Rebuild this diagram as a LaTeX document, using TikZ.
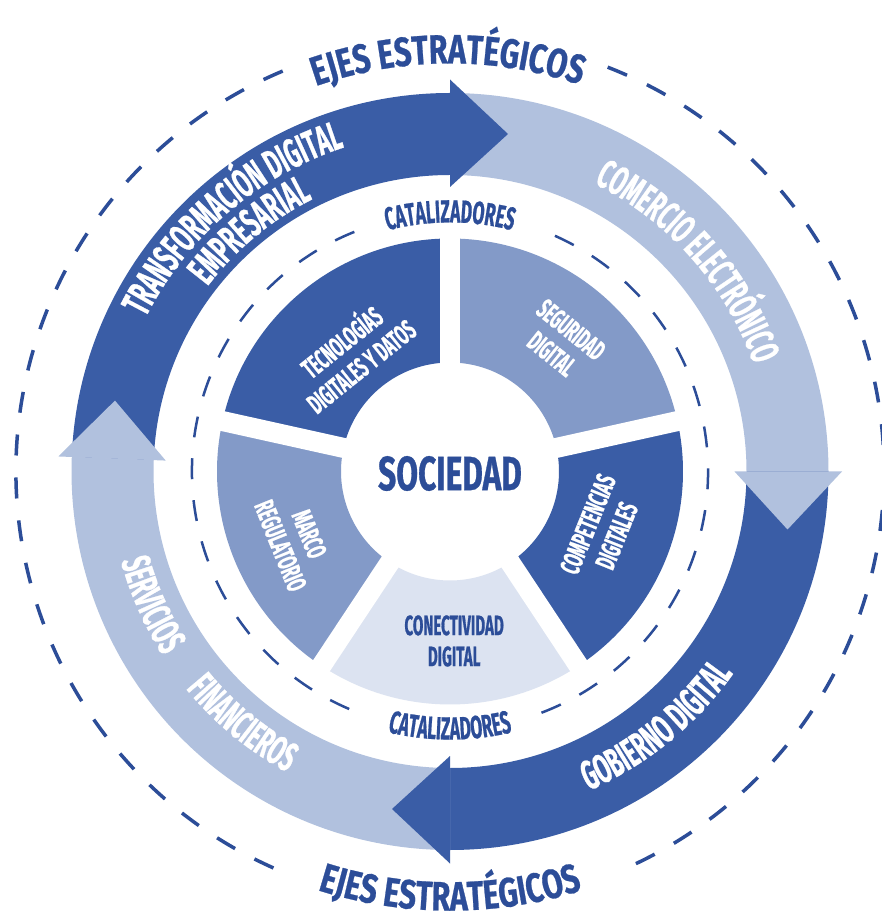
\documentclass[tikz,border=0pt]{standalone}
\usepackage{fontspec}
\usetikzlibrary{calc,decorations.text}
\newfontfamily\condsf[FakeStretch=0.54, BoldFeatures={FakeBold=0.6}]{Fira Sans}
\newfontfamily\midsf[FakeStretch=0.66, BoldFeatures={FakeBold=0.6}]{Fira Sans}
\newfontfamily\widesf[FakeStretch=0.74, BoldFeatures={FakeBold=0.6}]{Fira Sans}
\definecolor{bandDark}{HTML}{3A5DA6}
\definecolor{bandLight}{HTML}{B1C1DE}
\definecolor{segMid}{HTML}{839AC8}
\definecolor{segPale}{HTML}{DCE3F1}
\definecolor{inkBlue}{HTML}{2C4D98}

% text set on a clockwise / counter-clockwise arc, centred on an angle
\newcommand\cwtext[4]{\path[decorate,decoration={text along path,text align=center,text={|#3|#4}}]
  ({#2+70}:#1) arc[start angle={#2+70}, end angle={#2-70}, radius=#1];}
\newcommand\ccwtext[4]{\path[decorate,decoration={text along path,text align=center,text={|#3|#4}}]
  ({#2-70}:#1) arc[start angle={#2-70}, end angle={#2+70}, radius=#1];}

\newcommand\ringfmt{\condsf\bfseries\fontsize{41}{41}\selectfont\color{white}}
\newcommand\catfmt{\condsf\bfseries\fontsize{32}{32}\selectfont\color{inkBlue}}
\newcommand\ejesfmt{\widesf\bfseries\fontsize{41}{41}\selectfont\color{inkBlue}}

% ring band between two angles (clockwise from #1 to #2)
\newcommand\band[3]{\fill[#3] (#1:378.5) arc[start angle=#1, end angle=#2, radius=378.5]
  -- (#2:296.5) arc[start angle=#2, end angle=#1, radius=296.5] -- cycle;}
% arrow head whose base lies on the ray at angle #1, pointing clockwise
\newcommand\head[2]{\fill[#2] (#1:284.5) -- (#1:392) -- ($(#1:337.5)+({#1-90}:58)$) -- cycle;}
% sector of the inner wheel
\newcommand\sector[3]{\fill[#3] (#1:233) arc[start angle=#1, end angle=#2, radius=233]
  -- (#2:109) arc[start angle=#2, end angle=#1, radius=109] -- cycle;}

\tikzset{
  segtext/.style={font=\condsf\bfseries\fontsize{28}{31}\selectfont, text=white, align=center, inner sep=0pt},
  gapline/.style={white, line width=20pt},
  outerdash/.style={inkBlue, line width=3.5pt, dash pattern=on 21pt off 22pt},
  innerdash/.style={inkBlue, line width=2.5pt, dash pattern=on 21pt off 21pt},
}

\begin{document}
\begin{tikzpicture}[x=1pt,y=1pt]
\useasboundingbox (-450,-451.5) rectangle (432,471.5);
\fill[white] (-450,-451.5) rectangle (432,471.5);

% outer dashed circle, open where the titles sit
\draw[outerdash] (68.7:434) arc[start angle=68.7, end angle=-66, radius=434];
\draw[outerdash] (-114:434) arc[start angle=-114, end angle=-248.7, radius=434];

% strategic axes: four bands running clockwise
\band{177.8}{90}{bandDark}
\band{90}{0}{bandLight}
\band{0}{-90}{bandDark}
\band{-90}{-182.2}{bandLight}
\head{90}{bandDark}
\head{0}{bandLight}
\head{-90}{bandDark}
\head{177.8}{bandLight}

% inner dashed circle
\draw[innerdash] (66:258) arc[start angle=66, end angle=-69.4, radius=258];
\draw[innerdash] (-113:258) arc[start angle=-113, end angle=-251, radius=258];

% enablers wheel
\sector{167.5}{90}{bandDark}
\sector{90}{12.5}{segMid}
\sector{12.5}{-56.5}{bandDark}
\sector{-56.5}{-123.5}{segPale}
\sector{-123.5}{-192.5}{segMid}
\foreach \a in {90,12.5,-56.5,-123.5,167.5}
  \draw[gapline] (\a:100) -- (\a:245);

% labels on the bands
\cwtext{341}{130.6}{\ringfmt}{TRANSFORMACIÓN DIGITAL}
\cwtext{305}{129.7}{\ringfmt}{EMPRESARIAL}
\cwtext{322}{41.4}{\ringfmt}{COMERCIO ELECTRÓNICO}
\ccwtext{348}{-51}{\ringfmt}{GOBIERNO DIGITAL}
\ccwtext{341}{-156}{\ringfmt}{SERVICIOS}
\ccwtext{342}{-129.5}{\ringfmt}{FINANCIEROS}

\cwtext{249}{90}{\catfmt}{CATALIZADORES}
\ccwtext{268}{-90}{\catfmt}{CATALIZADORES}

\cwtext{408}{90.3}{\ejesfmt}{EJES ESTRATÉGICOS}
\ccwtext{439}{-90}{\ejesfmt}{EJES ESTRATÉGICOS}

% wheel labels
\node[segtext, rotate=38.75] (tec) at (130:156) {TECNOLOGÍAS\\DIGITALES Y DATOS};
\node[segtext, rotate=-38.75] (seg) at (49.3:171) {SEGURIDAD\\DIGITAL};
\node[segtext, rotate=68] (comp) at (-21:163) {COMPETENCIAS\\DIGITALES};
\node[segtext, rotate=-68] (marco) at (203.8:169.5) {MARCO\\REGULATORIO};
\node[segtext, text=inkBlue] (conec) at (-88.6:169.5) {CONECTIVIDAD\\DIGITAL};
\node[font=\midsf\bfseries\fontsize{48}{48}\selectfont, text=inkBlue, inner sep=0pt] (soc) at (0,-2) {SOCIEDAD};
\end{tikzpicture}
\end{document}
